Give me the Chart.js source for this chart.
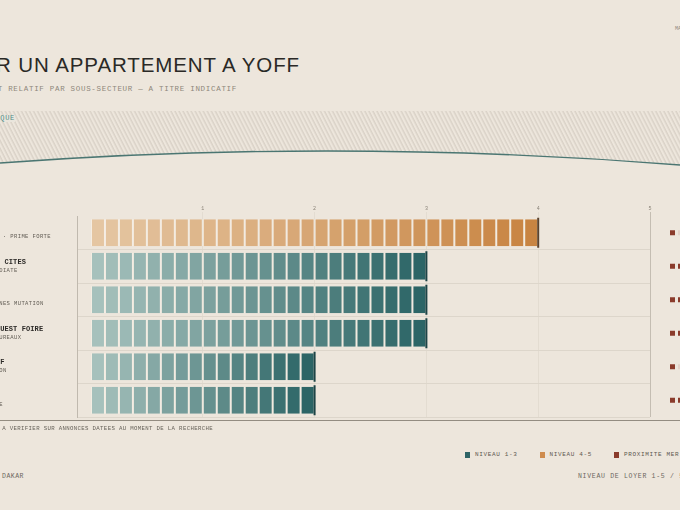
<!DOCTYPE html>
<html><head><meta charset="utf-8">
<script src="https://cdn.jsdelivr.net/npm/chart.js@4.4.1/dist/chart.umd.min.js"></script>
<style>
html,body{margin:0;padding:0;}
body{width:680px;height:510px;overflow:hidden;position:relative;background:#ede6dc;font-family:'Liberation Mono',monospace;}
.abs{position:absolute;white-space:nowrap;line-height:1;}
#title{right:380px;top:54.5px;font-family:'Liberation Sans',Arial,sans-serif;font-size:20.5px;letter-spacing:0.9px;color:#2a2926;}
#subtitle{right:443px;top:85.5px;font-size:7.5px;letter-spacing:0.7px;color:#8d867b;}
#sea{right:665px;top:114.5px;font-size:7px;letter-spacing:0.7px;color:#4f8a85;background:#e9e5dc;}
#topmark{left:675px;top:27px;font-size:5px;color:#8d867b;}
#chartbox{position:absolute;left:0;top:196px;width:680px;height:226px;}
#baseline{position:absolute;left:0;top:419.5px;width:680px;height:1.6px;background:#938c81;}
#note{right:467px;top:426px;font-size:5.7px;letter-spacing:0.35px;color:#67625a;}
#legend{left:465px;top:451.5px;display:flex;font-size:6px;letter-spacing:0.65px;color:#5d5850;}
#legend .it{display:flex;align-items:center;margin-right:22px;}
#legend .sw{width:5px;height:6px;margin-right:5px;}
#footl{right:656px;top:474px;font-size:6.5px;letter-spacing:0.5px;color:#6c675f;}
#footr{left:578px;top:474px;font-size:6.5px;letter-spacing:0.7px;color:#6c675f;}
</style></head>
<body>
<div id="title" class="abs">LOUER UN APPARTEMENT A YOFF</div>
<div id="subtitle" class="abs">COUT RELATIF PAR SOUS-SECTEUR — A TITRE INDICATIF</div>
<div id="topmark" class="abs">MARS</div>
<svg class="abs" style="left:0;top:0" width="680" height="200">
 <defs>
  <pattern id="h" width="3.6" height="10" patternUnits="userSpaceOnUse" patternTransform="rotate(-27)">
   <line x1="1" y1="0" x2="1" y2="10" stroke="#cbc3b7" stroke-width="0.9"/>
  </pattern>
  <clipPath id="c"><path d="M0,111 L680,111 L680,165 Q340,138 0,163 Z"/></clipPath>
 </defs>
 <rect x="0" y="111" width="680" height="60" fill="url(#h)" clip-path="url(#c)"/>
 <path d="M0,163 Q340,138 680,165" fill="none" stroke="#4b7672" stroke-width="1.4"/>
</svg>
<div id="sea" class="abs">OCEAN ATLANTIQUE</div>
<div id="chartbox"><canvas id="c1" width="680" height="226"></canvas></div>
<div id="baseline"></div>
<div id="note" class="abs">LOYERS INDICATIFS — A VERIFIER SUR ANNONCES DATEES AU MOMENT DE LA RECHERCHE</div>
<div id="legend" class="abs"></div>
<div id="footl" class="abs">YOFF · DAKAR</div>
<div id="footr" class="abs">NIVEAU DE LOYER 1-5 / 5 · ESTIMATION</div>
<script>
// ---- data ----
const categories = ['NGOR', 'AEROPORT / LES CITES', 'YOFF TONGHOR', 'NORD FOIRE / OUEST FOIRE', 'VILLAGE DE YOFF', 'YOFF LAYENNE'];
const subLabels = ['LITTORAL DE NGOR · PRIME FORTE', '· PROXIMITE IMMEDIATE', 'BATI ANCIEN · ZONES MUTATION', 'RESIDENTIEL ET BUREAUX', 'PECHE ET TRADITION', 'HABITAT POPULAIRE'];
const rentLevel = [4, 3, 3, 3, 2, 2];
const seaProximity = [1, 2, 2, 2, 1, 2];
const seaMax = 3;
const tickValues = [1, 2, 3, 4, 5];
const segmentSize = 0.125;
const legendLabels = ['NIVEAU 1-3', 'NIVEAU 4-5', 'PROXIMITE MER'];
const legendColors = ['#2e6466', '#cf8c4e', '#8a3b2b'];

// ---- styles ----
const tealRamp = [[166,193,188],[44,101,102]];
const orangeRamp = [[229,198,162],[200,132,66]];
function mix(r, t){ const a=r[0], b=r[1]; return 'rgb(' + a.map((c,i)=>Math.round(c+(b[i]-c)*t)).join(',') + ')'; }
function segColor(v, k){
  const n = Math.round(v / segmentSize);
  if (k >= n) return 'rgba(0,0,0,0)';
  const t = n > 1 ? k / (n - 1) : 1;
  return mix(v >= 4 ? orangeRamp : tealRamp, t);
}

const nSeg = Math.round(Math.max(...rentLevel) / segmentSize);
const datasets = [];
for (let k = 0; k < nSeg; k++) {
  datasets.push({
    data: rentLevel.map(v => ((k + 1) * segmentSize <= v + 1e-9) ? segmentSize : null),
    backgroundColor: rentLevel.map(v => segColor(v, k)),
    borderColor: '#f5eee4',
    borderWidth: {left: 1, right: 1, top: 0, bottom: 0},
    borderSkipped: false,
    barPercentage: 0.81,
    categoryPercentage: 1
  });
}

const decor = {
  id: 'decor',
  afterDatasetsDraw(chart) {
    const {ctx, chartArea, scales: {x, y}} = chart;
    ctx.save();
    // bar end caps
    rentLevel.forEach((v, i) => {
      const px = x.getPixelForValue(v), py = y.getPixelForValue(i);
      ctx.fillStyle = v >= 4 ? '#5b4330' : '#1d4446';
      ctx.fillRect(px - 1, py - 15, 2, 30);
    });
    // sea proximity squares
    seaProximity.forEach((p, i) => {
      const py = y.getPixelForValue(i);
      for (let j = 0; j < seaMax; j++) {
        ctx.fillStyle = j < p ? '#8a3b2b' : '#e4d2c8';
        ctx.fillRect(chartArea.right + 20 + j * 8, py - 2.5, 5, 5);
      }
    });
    // row labels (left aligned, start off-canvas)
    ctx.textAlign = 'left';
    ctx.textBaseline = 'middle';
    categories.forEach((c, i) => {
      const py = y.getPixelForValue(i);
      ctx.font = 'bold 7px "Liberation Mono"';
      ctx.letterSpacing = '0.1px';
      ctx.fillStyle = '#2b2926';
      ctx.fillText(c, -60, py - 4.5);
      ctx.font = '5.5px "Liberation Mono"';
      ctx.letterSpacing = '0.4px';
      ctx.fillStyle = '#625d55';
      ctx.fillText(subLabels[i], -60, py + 4);
    });
    ctx.restore();
  }
};

new Chart(document.getElementById('c1'), {
  type: 'bar',
  data: {labels: categories, datasets},
  options: {
    indexAxis: 'y',
    responsive: false,
    animation: false,
    layout: {padding: {left: 0, right: 30, top: 0, bottom: 5}},
    plugins: {legend: {display: false}, tooltip: {enabled: false}},
    scales: {
      x: {
        position: 'top',
        stacked: true,
        min: -segmentSize,
        max: 5,
        afterBuildTicks: a => { a.ticks = tickValues.map(v => ({value: v})); },
        afterFit: a => { a.height = 20; },
        ticks: {font: {family: 'Liberation Mono', size: 5}, color: '#8a8378', padding: 0, maxRotation: 0},
        grid: {
          color: c => (c.tick && c.tick.value === 5) ? '#c4bdb2' : '#e3dcd1',
          tickLength: 4, drawTicks: true, lineWidth: 1
        },
        border: {display: false}
      },
      y: {
        stacked: true,
        afterFit: a => { a.width = 77; },
        ticks: {display: false},
        grid: {color: c => c.index === 0 ? 'rgba(0,0,0,0)' : '#ddd6cb', drawTicks: false, offset: true},
        border: {display: true, color: '#c0b9ae', width: 1}
      }
    }
  },
  plugins: [decor]
});

// legend (html)
const lg = document.getElementById('legend');
legendLabels.forEach((l, i) => {
  const it = document.createElement('div'); it.className = 'it';
  const sw = document.createElement('span'); sw.className = 'sw'; sw.style.background = legendColors[i];
  it.appendChild(sw); it.appendChild(document.createTextNode(l)); lg.appendChild(it);
});
</script>
</body></html>
